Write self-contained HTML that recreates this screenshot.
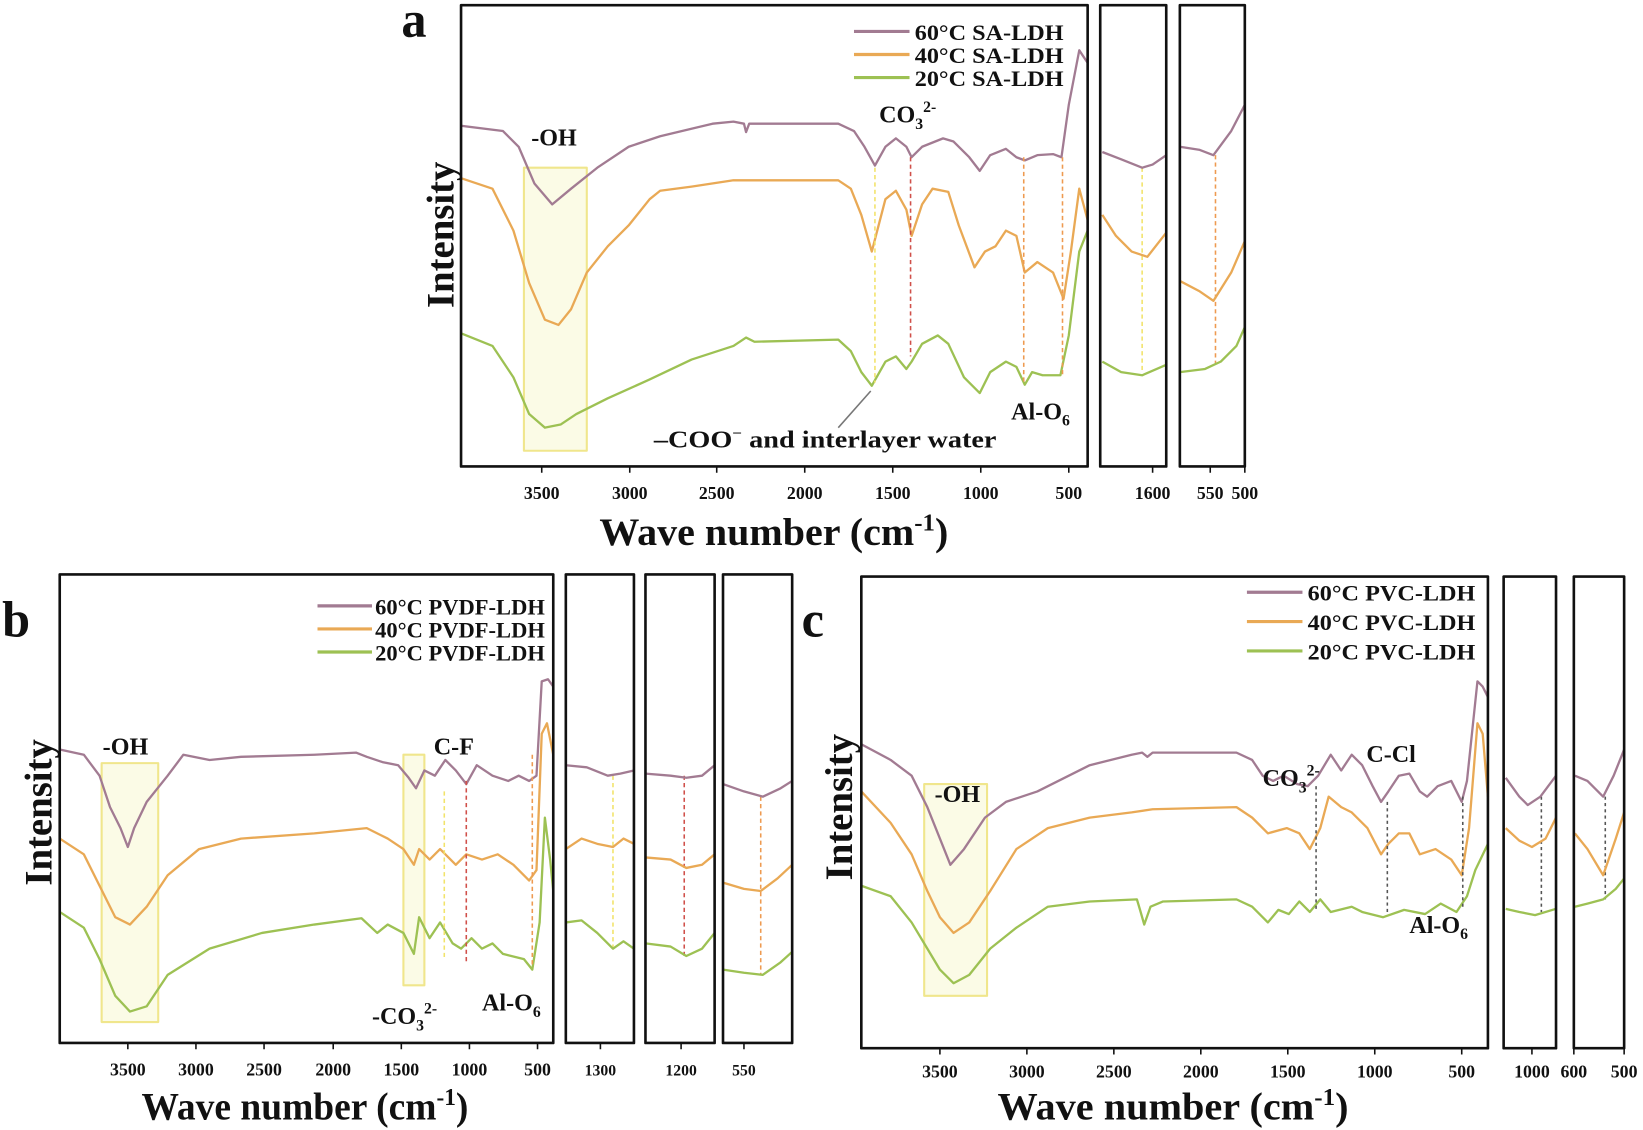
<!DOCTYPE html>
<html><head><meta charset="utf-8"><style>
html,body{margin:0;padding:0;background:#fff;}
svg{display:block;}
text{font-family:"Liberation Serif",serif;font-weight:bold;fill:#111;}
</style></head><body>
<svg width="1643" height="1130" viewBox="0 0 1568 1078" preserveAspectRatio="none" xmlns="http://www.w3.org/2000/svg">
<g fill="none" stroke-width="2.2" stroke-linejoin="round">
<!-- ===== Panel a ===== -->
<rect x="500" y="160" width="60" height="270" fill="#fbfbe6" stroke="#f0e68c" stroke-width="2"/>
<polyline stroke="#a27b92" points="440,120 480,125 495,140 510,175 527,195 545,180 570,160 600,140 630,130 680,118 700,116 710,118 712,126 715,118 800,118 815,125 825,140 835,158 845,140 855,132 865,140 870,150 880,140 900,132 910,135 925,150 935,163 945,148 960,142 970,150 978,153 990,148 1005,147 1013,150 1020,100 1030,48 1038,60"/>
<polyline stroke="#e9a955" points="440,170 470,180 490,220 505,270 520,305 533,310 545,295 560,260 580,235 600,215 620,190 630,182 660,178 700,172 800,172 812,180 822,205 832,240 845,190 855,182 865,200 870,225 880,195 890,180 905,183 915,215 930,255 940,240 950,235 960,220 970,225 978,260 990,250 1005,260 1015,285 1022,240 1030,180 1038,210"/>
<polyline stroke="#9dc153" points="440,318 470,330 490,360 505,395 520,408 535,405 550,395 580,380 620,362 660,343 700,330 712,322 720,326 800,324 812,335 822,355 832,368 845,345 855,340 865,352 870,345 880,328 895,320 905,328 920,360 935,375 945,355 960,345 970,350 978,367 985,355 995,358 1012,358 1020,320 1030,240 1038,220"/>
<g stroke-width="1.5" stroke-dasharray="4,3">
<line x1="835" y1="160" x2="835" y2="365" stroke="#f2e36a"/>
<line x1="869" y1="150" x2="869" y2="340" stroke="#d0504a"/>
<line x1="977" y1="150" x2="977" y2="365" stroke="#ee9a50"/>
<line x1="1014" y1="150" x2="1014" y2="360" stroke="#ee9a50"/>
<line x1="1090" y1="160" x2="1090" y2="355" stroke="#f2e36a"/>
<line x1="1160" y1="148" x2="1160" y2="350" stroke="#ee9a50"/>
</g>
<line x1="800" y1="408" x2="831" y2="373" stroke="#777" stroke-width="1.5"/>
<polyline stroke="#a27b92" points="1052,145 1070,152 1090,160 1100,157 1113,148"/>
<polyline stroke="#e9a955" points="1052,205 1065,225 1080,240 1095,245 1113,222"/>
<polyline stroke="#9dc153" points="1052,345 1070,355 1090,358 1113,348"/>
<polyline stroke="#a27b92" points="1126,140 1145,143 1158,148 1175,125 1188,100"/>
<polyline stroke="#e9a955" points="1126,268 1145,278 1158,287 1175,260 1188,230"/>
<polyline stroke="#9dc153" points="1126,355 1150,352 1165,345 1180,330 1188,312"/>
<line x1="815" y1="30" x2="868" y2="30" stroke="#a27b92" stroke-width="3"/>
<line x1="815" y1="52" x2="868" y2="52" stroke="#e9a955" stroke-width="3"/>
<line x1="815" y1="74" x2="868" y2="74" stroke="#9dc153" stroke-width="3"/>
<g stroke="#111" stroke-width="2.5">
<rect x="440" y="5" width="598" height="440"/>
<rect x="1050" y="5" width="63" height="440"/>
<rect x="1126" y="5" width="62" height="440"/>
</g>
<!-- ===== Panel b ===== -->
<rect x="97" y="728" width="54" height="247" fill="#fbfbe6" stroke="#f0e68c" stroke-width="2"/>
<rect x="385" y="720" width="20" height="220" fill="#fbfbe6" stroke="#f0e68c" stroke-width="2"/>
<polyline stroke="#a27b92" points="57,715 80,720 95,740 105,770 115,790 122,808 128,790 140,765 160,740 175,720 200,725 230,722 300,720 340,718 350,722 365,727 380,730 390,742 397,752 405,735 415,740 425,725 435,735 445,748 455,730 470,740 485,745 495,740 505,745 512,740 517,650 523,648 528,655"/>
<polyline stroke="#e9a955" points="57,800 80,815 95,845 110,875 124,882 140,865 160,835 190,810 230,800 300,795 350,790 370,800 385,810 395,825 400,810 410,820 420,810 435,825 445,815 460,820 475,815 490,825 505,840 512,830 517,700 522,690 528,720"/>
<polyline stroke="#9dc153" points="57,870 80,885 95,915 110,950 124,965 140,960 160,930 200,905 250,890 300,882 345,876 360,890 370,882 385,890 395,910 400,875 410,895 420,880 432,900 440,905 450,895 460,905 470,900 480,910 500,915 508,925 515,880 520,780 525,820 528,850"/>
<g stroke-width="1.5" stroke-dasharray="4,3">
<line x1="424" y1="755" x2="424" y2="915" stroke="#f2e36a"/>
<line x1="445" y1="745" x2="445" y2="920" stroke="#d0504a"/>
<line x1="508" y1="720" x2="508" y2="920" stroke="#ee9a50"/>
<line x1="585" y1="740" x2="585" y2="905" stroke="#f2e36a"/>
<line x1="653" y1="740" x2="653" y2="912" stroke="#d0504a"/>
<line x1="726" y1="760" x2="726" y2="930" stroke="#ee9a50"/>
</g>
<polyline stroke="#a27b92" points="540,730 560,732 580,740 592,738 605,735"/>
<polyline stroke="#e9a955" points="540,810 555,800 570,805 585,808 595,800 605,805"/>
<polyline stroke="#9dc153" points="540,880 555,878 570,890 585,905 595,898 605,905"/>
<polyline stroke="#a27b92" points="616,738 640,740 655,742 670,740 682,730"/>
<polyline stroke="#e9a955" points="616,818 640,820 655,828 670,825 682,815"/>
<polyline stroke="#9dc153" points="616,900 640,903 655,912 670,905 682,890"/>
<polyline stroke="#a27b92" points="690,748 710,755 728,760 745,752 756,745"/>
<polyline stroke="#e9a955" points="690,842 710,848 726,850 742,838 756,825"/>
<polyline stroke="#9dc153" points="690,925 710,928 728,930 745,918 756,908"/>
<line x1="303" y1="578" x2="355" y2="578" stroke="#a27b92" stroke-width="3"/>
<line x1="303" y1="600" x2="355" y2="600" stroke="#e9a955" stroke-width="3"/>
<line x1="303" y1="622" x2="355" y2="622" stroke="#9dc153" stroke-width="3"/>
<g stroke="#111" stroke-width="2.5">
<rect x="57" y="548" width="471" height="447"/>
<rect x="540" y="548" width="65" height="447"/>
<rect x="616" y="548" width="66" height="447"/>
<rect x="690" y="548" width="66" height="447"/>
</g>
<!-- ===== Panel c ===== -->
<rect x="882" y="748" width="60" height="202" fill="#fbfbe6" stroke="#f0e68c" stroke-width="2"/>
<polyline stroke="#a27b92" points="822,710 850,725 870,740 885,770 897,800 907,825 920,810 940,780 960,765 990,755 1010,745 1040,730 1080,720 1090,718 1095,722 1100,718 1180,718 1195,725 1205,740 1215,745 1225,740 1238,748 1248,750 1258,740 1270,720 1280,735 1290,720 1300,730 1310,750 1318,765 1325,755 1335,740 1345,738 1355,755 1362,760 1372,750 1385,745 1395,765 1400,745 1410,650 1415,655 1420,665"/>
<polyline stroke="#e9a955" points="822,755 850,785 870,815 885,850 897,875 910,890 925,880 945,850 970,810 1000,790 1040,780 1080,775 1100,772 1180,770 1195,780 1210,795 1228,790 1240,795 1250,810 1260,790 1268,760 1280,770 1290,775 1305,790 1318,815 1325,805 1335,795 1345,795 1355,815 1370,810 1385,820 1395,835 1402,790 1410,690 1415,700 1420,760"/>
<polyline stroke="#9dc153" points="822,845 850,855 870,880 885,905 897,925 910,938 925,930 945,905 970,885 1000,865 1040,860 1085,858 1088,868 1092,882 1098,865 1110,860 1180,858 1195,865 1210,880 1220,868 1230,872 1240,860 1250,870 1260,858 1270,870 1290,865 1300,870 1320,875 1340,868 1360,872 1375,862 1390,870 1400,855 1408,830 1420,805"/>
<g stroke="#555" stroke-width="1.5" stroke-dasharray="3,3">
<line x1="1256" y1="750" x2="1256" y2="870"/>
<line x1="1324" y1="765" x2="1324" y2="870"/>
<line x1="1396" y1="760" x2="1396" y2="865"/>
<line x1="1471" y1="760" x2="1471" y2="870"/>
<line x1="1532" y1="760" x2="1532" y2="858"/>
</g>
<polyline stroke="#a27b92" points="1437,742 1450,760 1458,768 1470,760 1485,740"/>
<polyline stroke="#e9a955" points="1437,790 1450,802 1462,808 1475,800 1485,780"/>
<polyline stroke="#9dc153" points="1437,867 1450,870 1465,873 1485,867"/>
<polyline stroke="#a27b92" points="1503,740 1515,745 1530,760 1540,740 1550,715"/>
<polyline stroke="#e9a955" points="1503,795 1515,810 1530,835 1542,800 1550,775"/>
<polyline stroke="#9dc153" points="1503,865 1515,862 1530,858 1542,848 1550,838"/>
<line x1="1190" y1="565" x2="1243" y2="565" stroke="#a27b92" stroke-width="3"/>
<line x1="1190" y1="593" x2="1243" y2="593" stroke="#e9a955" stroke-width="3"/>
<line x1="1190" y1="621" x2="1243" y2="621" stroke="#9dc153" stroke-width="3"/>
<g stroke="#111" stroke-width="2.5">
<rect x="822" y="550" width="598" height="450"/>
<rect x="1435" y="550" width="50" height="450"/>
<rect x="1502" y="550" width="48" height="450"/>
</g>
<!-- ticks -->
<g stroke="#111" stroke-width="1.5">
<path d="M517,445v6M601,445v6M684,445v6M768,445v6M852,445v6M936,445v6M1020,445v6M1100,445v6M1155,445v6M1188,445v6"/>
<path d="M122,995v6M187,995v6M252,995v6M318,995v6M383,995v6M448,995v6M513,995v6M573,995v6M650,995v6M710,995v6"/>
<path d="M897,1000v6M980,1000v6M1063,1000v6M1146,1000v6M1229,1000v6M1312,1000v6M1395,1000v6M1462,1000v6M1502,1000v6M1550,1000v6"/>
</g>
</g>
<!-- text -->
<g font-size="21">
<text x="873" y="38" textLength="142" lengthAdjust="spacingAndGlyphs">60°C SA-LDH</text>
<text x="873" y="60" textLength="142" lengthAdjust="spacingAndGlyphs">40°C SA-LDH</text>
<text x="873" y="82" textLength="142" lengthAdjust="spacingAndGlyphs">20°C SA-LDH</text>
<text x="358" y="586" textLength="162" lengthAdjust="spacingAndGlyphs">60°C PVDF-LDH</text>
<text x="358" y="608" textLength="162" lengthAdjust="spacingAndGlyphs">40°C PVDF-LDH</text>
<text x="358" y="630" textLength="162" lengthAdjust="spacingAndGlyphs">20°C PVDF-LDH</text>
<text x="1248" y="573" textLength="160" lengthAdjust="spacingAndGlyphs">60°C PVC-LDH</text>
<text x="1248" y="601" textLength="160" lengthAdjust="spacingAndGlyphs">40°C PVC-LDH</text>
<text x="1248" y="629" textLength="160" lengthAdjust="spacingAndGlyphs">20°C PVC-LDH</text>
</g>
<g font-size="23">
<text x="507" y="139">-OH</text>
<text x="839" y="117">CO<tspan font-size="15" dy="6">3</tspan><tspan font-size="15" dy="-16">2-</tspan></text>
<text x="965" y="400">Al-O<tspan font-size="15" dy="6">6</tspan></text>
<text x="624" y="427" textLength="327" lengthAdjust="spacingAndGlyphs">–COO<tspan font-size="14" dy="-9">−</tspan><tspan dy="9"> and interlayer water</tspan></text>
<text x="98" y="720">-OH</text>
<text x="414" y="720">C-F</text>
<text x="355" y="977">-CO<tspan font-size="15" dy="6">3</tspan><tspan font-size="15" dy="-16">2-</tspan></text>
<text x="460" y="964">Al-O<tspan font-size="15" dy="6">6</tspan></text>
<text x="892" y="765">-OH</text>
<text x="1205" y="750">CO<tspan font-size="15" dy="6">3</tspan><tspan font-size="15" dy="-16">2-</tspan></text>
<text x="1304" y="727">C-Cl</text>
<text x="1345" y="890">Al-O<tspan font-size="15" dy="6">6</tspan></text>
</g>
<g font-size="17" text-anchor="middle">
<text x="517" y="476">3500</text><text x="601" y="476">3000</text><text x="684" y="476">2500</text><text x="768" y="476">2000</text><text x="852" y="476">1500</text><text x="936" y="476">1000</text><text x="1020" y="476">500</text><text x="1100" y="476">1600</text><text x="1155" y="476">550</text><text x="1188" y="476">500</text>
<text x="122" y="1026">3500</text><text x="187" y="1026">3000</text><text x="252" y="1026">2500</text><text x="318" y="1026">2000</text><text x="383" y="1026">1500</text><text x="448" y="1026">1000</text><text x="513" y="1026">500</text><text x="573" y="1026" font-size="15">1300</text><text x="650" y="1026" font-size="15">1200</text><text x="710" y="1026" font-size="15">550</text>
<text x="897" y="1028">3500</text><text x="980" y="1028">3000</text><text x="1063" y="1028">2500</text><text x="1146" y="1028">2000</text><text x="1229" y="1028">1500</text><text x="1312" y="1028">1000</text><text x="1395" y="1028">500</text><text x="1462" y="1028">1000</text><text x="1502" y="1028">600</text><text x="1550" y="1028">500</text>
</g>
<g font-size="37">
<text x="572" y="520" textLength="333" lengthAdjust="spacingAndGlyphs">Wave number (cm<tspan font-size="23" dy="-14">-1</tspan><tspan dy="14">)</tspan></text>
<text x="135" y="1068" textLength="312" lengthAdjust="spacingAndGlyphs">Wave number (cm<tspan font-size="23" dy="-14">-1</tspan><tspan dy="14">)</tspan></text>
<text x="952" y="1068" textLength="335" lengthAdjust="spacingAndGlyphs">Wave number (cm<tspan font-size="23" dy="-14">-1</tspan><tspan dy="14">)</tspan></text>
</g>
<g font-size="37" text-anchor="middle">
<text transform="translate(433,224) rotate(-90)">Intensity</text>
<text transform="translate(49,775) rotate(-90)">Intensity</text>
<text transform="translate(813,770) rotate(-90)">Intensity</text>
</g>
<g font-size="48">
<text x="383" y="35">a</text>
<text x="2" y="607">b</text>
<text x="765" y="607">c</text>
</g>
</svg>
</body></html>
